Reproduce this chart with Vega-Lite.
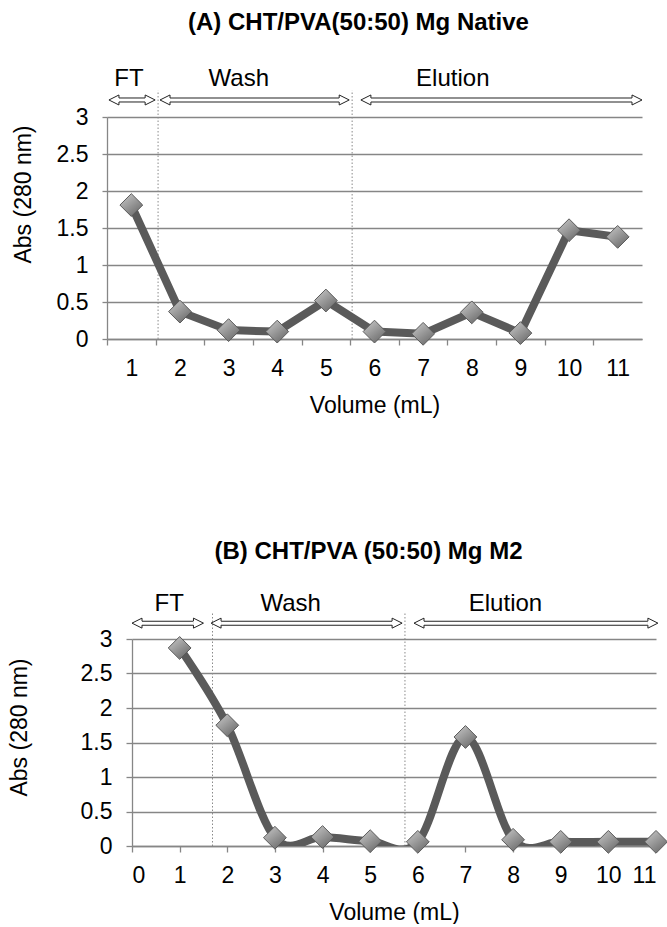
{
  "$schema": "https://vega.github.io/schema/vega-lite/v6.json",
  "padding": {"left": 8, "top": 11, "right": 0, "bottom": 0},
  "background": "white",
  "spacing": 122,
  "config": {
    "view": {"stroke": null},
    "font": "Liberation Sans",
    "axis": {
      "labelFont": "Liberation Sans",
      "labelFontSize": 23,
      "labelColor": "black",
      "titleFont": "Liberation Sans",
      "titleFontSize": 23,
      "titleFontWeight": "normal",
      "titleColor": "black",
      "domainColor": "#868686",
      "domainWidth": 1.3,
      "gridColor": "#868686",
      "gridWidth": 1.3,
      "tickColor": "#868686",
      "tickWidth": 1.3,
      "labelOverlap": false
    },
    "title": {"font": "Liberation Sans", "fontSize": 24, "fontWeight": "bold", "color": "black"}
  },
  "datasets": {
    "native": [
      {"volume": 1, "abs": 1.81}, {"volume": 2, "abs": 0.37}, {"volume": 3, "abs": 0.12},
      {"volume": 4, "abs": 0.1}, {"volume": 5, "abs": 0.52}, {"volume": 6, "abs": 0.1},
      {"volume": 7, "abs": 0.07}, {"volume": 8, "abs": 0.36}, {"volume": 9, "abs": 0.08},
      {"volume": 10, "abs": 1.47}, {"volume": 11, "abs": 1.38}
    ],
    "m2": [
      {"volume": 1, "abs": 2.87}, {"volume": 2, "abs": 1.75}, {"volume": 3, "abs": 0.12},
      {"volume": 4, "abs": 0.13}, {"volume": 5, "abs": 0.07}, {"volume": 6, "abs": 0.06},
      {"volume": 7, "abs": 1.58}, {"volume": 8, "abs": 0.09}, {"volume": 9, "abs": 0.06},
      {"volume": 10, "abs": 0.06}, {"volume": 11, "abs": 0.06}
    ],
    "phasesA": [
      {"phase": "FT", "from": 0.54, "to": 1.49, "mid": 0.95},
      {"phase": "Wash", "from": 1.59, "to": 5.48, "mid": 3.21},
      {"phase": "Elution", "from": 5.72, "to": 11.5, "mid": 7.61}
    ],
    "phasesB": [
      {"phase": "FT", "from": 0.0, "to": 1.5, "mid": 0.78},
      {"phase": "Wash", "from": 1.66, "to": 5.67, "mid": 3.33},
      {"phase": "Elution", "from": 5.92, "to": 11.04, "mid": 7.84}
    ],
    "splitsA": [{"at": 1.55}, {"at": 5.54}],
    "splitsB": [{"at": 1.69}, {"at": 5.73}]
  },
  "vconcat": [
    {
      "width": 535,
      "height": 222,
      "title": {"text": "(A) CHT/PVA(50:50) Mg Native", "anchor": "middle", "offset": 32, "dx": -16},
      "encoding": {
        "x": {
          "type": "quantitative", "title": "Volume (mL)",
          "scale": {"domain": [0.5, 11.5], "nice": false, "zero": false},
          "axis": {
            "values": [1, 2, 3, 4, 5, 6, 7, 8, 9, 10, 11, 12],
            "tickOffset": -24.32,
            "labelOffset": 24.32,
            "labelExpr": "datum.value > 11 ? '' : datum.label",
            "format": "d",
            "grid": false,
            "tickSize": 6,
            "labelPadding": 12,
            "titlePadding": 14
          }
        },
        "y": {
          "type": "quantitative", "title": "Abs (280 nm)",
          "scale": {"domain": [0, 3], "nice": false},
          "axis": {
            "values": [0, 0.5, 1, 1.5, 2, 2.5, 3],
            "format": "~g",
            "grid": true,
            "tickSize": 5,
            "labelPadding": 14,
            "titlePadding": 21,
            "titleY": 77
          }
        }
      },
      "layer": [
        {
          "data": {"name": "splitsA"},
          "mark": {"type": "rule", "color": "#8a8a8a", "strokeWidth": 1, "strokeDash": [1.5, 2]},
          "encoding": {
            "x": {"field": "at"},
            "y": {"datum": 0},
            "y2": {"datum": 3.36}
          }
        },
        {
          "data": {"name": "native"},
          "mark": {"type": "line", "color": "#5a5a5a", "strokeWidth": 8, "strokeJoin": "round"},
          "encoding": {
            "x": {"field": "volume"},
            "y": {"field": "abs"}
          }
        },
        {
          "data": {"name": "native"},
          "mark": {
            "type": "point", "shape": "diamond", "size": 520, "filled": true, "opacity": 1,
            "fill": {"gradient": "linear", "x1": 0.2, "y1": 0.1, "x2": 0.8, "y2": 0.9,
              "stops": [{"offset": 0, "color": "#bdbdbd"}, {"offset": 1, "color": "#6f6f6f"}]},
            "stroke": "#5a5a5a", "strokeWidth": 1
          },
          "encoding": {
            "x": {"field": "volume"},
            "y": {"field": "abs"}
          }
        },
        {
          "data": {"name": "phasesA"},
          "mark": {"type": "rule", "color": "#222222", "strokeWidth": 5, "xOffset": 10, "x2Offset": -10},
          "encoding": {
            "x": {"field": "from"},
            "x2": {"field": "to"},
            "y": {"datum": 3.23}
          }
        },
        {
          "data": {"name": "phasesA"},
          "mark": {"type": "rule", "color": "white", "strokeWidth": 3, "xOffset": 10, "x2Offset": -10},
          "encoding": {
            "x": {"field": "from"},
            "x2": {"field": "to"},
            "y": {"datum": 3.23}
          }
        },
        {
          "data": {"name": "phasesA"},
          "mark": {"type": "point", "shape": "M1,-0.4L1,-1L-1,0L1,1L1,0.4", "size": 100, "filled": true, "opacity": 1,
            "fill": "white", "stroke": "#222222", "strokeWidth": 1, "xOffset": 5},
          "encoding": {
            "x": {"field": "from"},
            "y": {"datum": 3.23}
          }
        },
        {
          "data": {"name": "phasesA"},
          "mark": {"type": "point", "shape": "M-1,-0.4L-1,-1L1,0L-1,1L-1,0.4", "size": 100, "filled": true, "opacity": 1,
            "fill": "white", "stroke": "#222222", "strokeWidth": 1, "xOffset": -5},
          "encoding": {
            "x": {"field": "to"},
            "y": {"datum": 3.23}
          }
        },
        {
          "data": {"name": "phasesA"},
          "mark": {"type": "text", "fontSize": 24, "font": "Liberation Sans", "color": "black", "baseline": "middle"},
          "encoding": {
            "x": {"field": "mid"},
            "y": {"datum": 3.51},
            "text": {"field": "phase"}
          }
        }
      ]
    },
    {
      "width": 549,
      "height": 207,
      "title": {"text": "(B) CHT/PVA (50:50) Mg M2", "anchor": "middle", "offset": 28, "dx": -13},
      "encoding": {
        "x": {
          "type": "quantitative", "title": "Volume (mL)",
          "scale": {"domain": [0, 11], "range": [25, 549], "nice": false, "zero": false},
          "axis": {
            "values": [0, 1, 2, 3, 4, 5, 6, 7, 8, 9, 10, 11],
            "format": "d",
            "grid": false,
            "tickSize": 6,
            "labelPadding": 12,
            "titlePadding": 14
          }
        },
        "y": {
          "type": "quantitative", "title": "Abs (280 nm)",
          "scale": {"domain": [0, 3], "nice": false},
          "axis": {
            "values": [0, 0.5, 1, 1.5, 2, 2.5, 3],
            "format": "~g",
            "grid": true,
            "offset": -25,
            "tickSize": 6,
            "labelPadding": 14,
            "titlePadding": 49,
            "titleY": 88
          }
        }
      },
      "layer": [
        {
          "data": {"name": "splitsB"},
          "mark": {"type": "rule", "color": "#8a8a8a", "strokeWidth": 1, "strokeDash": [1.5, 2]},
          "encoding": {
            "x": {"field": "at"},
            "y": {"datum": 0},
            "y2": {"datum": 3.38}
          }
        },
        {
          "data": {"name": "m2"},
          "mark": {"type": "line", "color": "#5a5a5a", "strokeWidth": 8, "strokeJoin": "round", "interpolate": "cardinal", "clip": true},
          "encoding": {
            "x": {"field": "volume"},
            "y": {"field": "abs"}
          }
        },
        {
          "data": {"name": "m2"},
          "mark": {
            "type": "point", "shape": "diamond", "size": 520, "filled": true, "opacity": 1,
            "fill": {"gradient": "linear", "x1": 0.2, "y1": 0.1, "x2": 0.8, "y2": 0.9,
              "stops": [{"offset": 0, "color": "#bdbdbd"}, {"offset": 1, "color": "#6f6f6f"}]},
            "stroke": "#5a5a5a", "strokeWidth": 1
          },
          "encoding": {
            "x": {"field": "volume"},
            "y": {"field": "abs"}
          }
        },
        {
          "data": {"name": "phasesB"},
          "mark": {"type": "rule", "color": "#222222", "strokeWidth": 5, "xOffset": 10, "x2Offset": -10},
          "encoding": {
            "x": {"field": "from"},
            "x2": {"field": "to"},
            "y": {"datum": 3.23}
          }
        },
        {
          "data": {"name": "phasesB"},
          "mark": {"type": "rule", "color": "white", "strokeWidth": 3, "xOffset": 10, "x2Offset": -10},
          "encoding": {
            "x": {"field": "from"},
            "x2": {"field": "to"},
            "y": {"datum": 3.23}
          }
        },
        {
          "data": {"name": "phasesB"},
          "mark": {"type": "point", "shape": "M1,-0.4L1,-1L-1,0L1,1L1,0.4", "size": 100, "filled": true, "opacity": 1,
            "fill": "white", "stroke": "#222222", "strokeWidth": 1, "xOffset": 5},
          "encoding": {
            "x": {"field": "from"},
            "y": {"datum": 3.23}
          }
        },
        {
          "data": {"name": "phasesB"},
          "mark": {"type": "point", "shape": "M-1,-0.4L-1,-1L1,0L-1,1L-1,0.4", "size": 100, "filled": true, "opacity": 1,
            "fill": "white", "stroke": "#222222", "strokeWidth": 1, "xOffset": -5},
          "encoding": {
            "x": {"field": "to"},
            "y": {"datum": 3.23}
          }
        },
        {
          "data": {"name": "phasesB"},
          "mark": {"type": "text", "fontSize": 24, "font": "Liberation Sans", "color": "black", "baseline": "middle"},
          "encoding": {
            "x": {"field": "mid"},
            "y": {"datum": 3.51},
            "text": {"field": "phase"}
          }
        }
      ]
    }
  ]
}
